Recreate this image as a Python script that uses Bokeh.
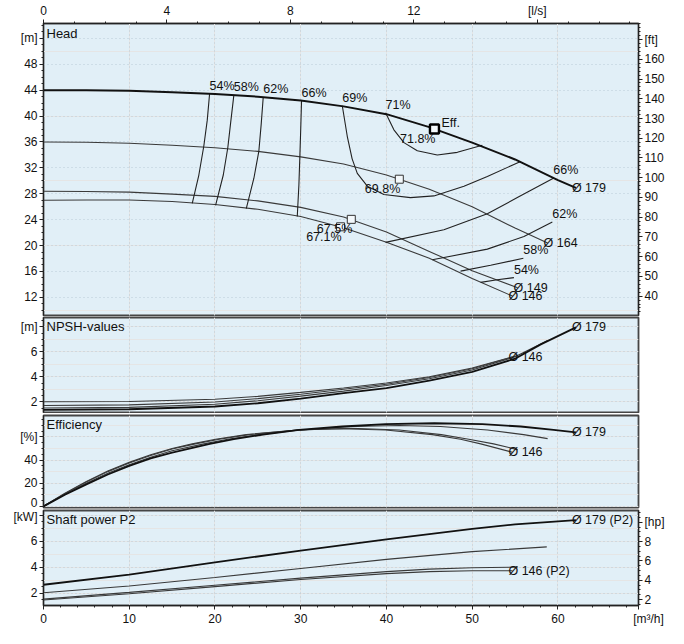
from bokeh.plotting import figure
from bokeh.layouts import column
from bokeh.models import Range1d, LinearAxis, FixedTicker, Grid, Label
from bokeh.embed import file_html
from bokeh.resources import INLINE
from bokeh.core.properties import value

# ---------------- data (flow Q in m3/h) ----------------
# Head curves [m]
q179 = [0, 5, 10, 15, 20, 25, 30, 35, 40, 45, 50, 55, 60, 62.1]
h179 = [44.0, 44.0, 43.9, 43.7, 43.4, 43.0, 42.4, 41.5, 40.3, 38.3, 35.9, 33.3, 30.1, 28.9]
q164 = [0, 5, 10, 15, 20, 25, 30, 35, 40, 45, 50, 55, 58.8]
h164 = [36.0, 35.95, 35.8, 35.5, 35.1, 34.55, 33.7, 32.6, 30.9, 28.7, 26.0, 22.7, 20.4]
q149 = [0, 5, 10, 15, 20, 25, 30, 35, 40, 45, 50, 55.3]
h149 = [28.4, 28.35, 28.25, 27.95, 27.6, 26.9, 25.9, 24.4, 22.1, 19.1, 16.1, 13.5]
q146 = [0, 5, 10, 15, 20, 25, 30, 35, 40, 45, 50, 54.7]
h146 = [27.0, 27.05, 27.05, 26.8, 26.35, 25.6, 24.5, 22.75, 20.5, 18.05, 14.9, 12.2]

# best efficiency points
bep_q = [45.6, 41.5, 35.9, 34.65]
bep_h = [38.0, 30.25, 24.05, 22.9]
bep_lbl = ["71.8%", "69.8%", "67.5%", "67.1%"]

# iso-efficiency lines in the head chart
iso_l_lbl = ["54%", "58%", "62%", "66%"]
iso_l_q = [[19.37, 19.1, 18.7, 18.12, 17.35],
           [22.2, 21.82, 21.5, 20.97, 20.07],
           [25.63, 25.4, 25.12, 24.54, 23.65],
           [30.1, 30.0, 29.9, 29.79, 29.6]]
iso_l_h = [[43.4, 39.37, 35.38, 30.9, 26.5],
           [43.2, 38.88, 35.15, 30.9, 26.2],
           [42.95, 38.88, 34.6, 30.4, 25.7],
           [42.4, 37.88, 33.74, 29.4, 24.5]]
iso69_q = [34.85, 35.43, 36.0, 36.6, 37.77, 39.7, 42.8, 45.54, 49.04, 51.77, 55.65]
iso69_h = [41.6, 36.88, 33.4, 31.15, 29.17, 27.9, 27.4, 27.67, 29.17, 30.66, 33.0]
iso71_q = [39.9, 40.87, 42.04, 43.6, 45.93, 48.27, 51.18]
iso71_h = [40.5, 37.88, 35.9, 34.64, 34.0, 34.4, 35.5]
iso_r_lbl = ["66%", "62%", "58%", "54%"]
iso_r_q = [[59.47, 55.27, 51.77, 46.7, 39.9],
           [59.35, 56.04, 51.77, 45.35],
           [55.97, 52.15, 48.65],
           [54.87, 52.93, 50.99]]
iso_r_h = [[30.4, 27.41, 24.9, 22.44, 20.5],
           [23.63, 21.4, 19.45, 17.8],
           [18.04, 16.95, 16.06],
           [15.05, 14.71, 14.31]]

# NPSH [m]
nq179 = [0, 10, 20, 25, 30, 35, 40, 45, 50, 55, 58, 62.1]
n179 = [1.35, 1.4, 1.62, 1.88, 2.25, 2.7, 3.1, 3.7, 4.4, 5.45, 6.6, 7.96]
nq164 = [0, 10, 20, 25, 30, 35, 40, 45, 50, 55, 58.8]
n164 = [1.5, 1.55, 1.8, 2.08, 2.45, 2.85, 3.3, 3.85, 4.55, 5.6, 6.9]
nq149 = [0, 10, 20, 25, 30, 35, 40, 45, 50, 55.3]
n149 = [1.7, 1.75, 1.98, 2.25, 2.6, 3.0, 3.4, 3.95, 4.65, 5.7]
nq146 = [0, 10, 20, 25, 30, 35, 40, 45, 50, 54.7]
n146 = [2.0, 2.02, 2.2, 2.43, 2.75, 3.1, 3.5, 4.0, 4.7, 5.6]

# Efficiency [%]
eq179 = [0, 2.5, 5, 7.5, 10, 12.5, 15, 19.4, 22.2, 25.6, 29.8, 34.85, 39.9, 45.6, 51.2, 55.65, 59.5, 62.1]
e179 = [0, 10, 19, 27.5, 35, 41.5, 46.5, 54, 58, 62, 66, 69, 71, 71.8, 71, 69, 66, 64.0]
eq164 = [0, 2.5, 5, 7.5, 10, 12.5, 15, 18.7, 21.5, 25.1, 29.9, 36, 41.5, 46.3, 51.8, 56, 58.8]
e164 = [0, 10.5, 20, 28.5, 36, 42.5, 48, 54, 58, 62, 66, 69, 69.8, 69, 66, 62, 58.5]
eq149 = [0, 2.5, 5, 7.5, 10, 12.5, 15, 17.7, 20.5, 24, 29.7, 35.9, 41.5, 46.4, 49.6, 52.5, 55.3]
e149 = [0, 11, 21, 30, 37.5, 44, 49.5, 54, 58, 62, 66, 67.5, 66, 62, 58, 54, 49]
eq146 = [0, 2.5, 5, 7.5, 10, 12.5, 15, 17.35, 20.07, 23.65, 29.6, 34.65, 39.9, 45.35, 48.65, 51, 54.7]
e146 = [0, 11.3, 21.5, 30.5, 38, 44.5, 50, 54, 58, 62, 66, 67.1, 66, 62, 58, 54, 46.7]

# Shaft power P2 [kW]
pq179 = [0, 10, 20, 30, 40, 50, 55, 62.1]
p179 = [2.64, 3.43, 4.37, 5.28, 6.15, 6.96, 7.3, 7.63]
pq164 = [0, 10, 20, 30, 40, 50, 58.7]
p164 = [2.02, 2.55, 3.2, 3.9, 4.6, 5.2, 5.56]
pq149 = [0, 10, 20, 30, 40, 45, 50, 55.3]
p149 = [1.53, 2.05, 2.6, 3.15, 3.65, 3.85, 3.95, 4.0]
pq146 = [0, 10, 20, 30, 40, 45, 50, 54.7]
p146 = [1.46, 1.95, 2.5, 3.05, 3.5, 3.65, 3.72, 3.72]

# axis ticks
q_ticks = [0, 10, 20, 30, 40, 50, 60]
ls_ticks = [0, 4, 8, 12, 16]
h_ticks = [12, 16, 20, 24, 28, 32, 36, 40, 44, 48, 52]
ft_ticks = [30, 40, 50, 60, 70, 80, 90, 100, 110, 120, 130, 140, 150, 160, 170]
npsh_ticks = [2, 4, 6, 8]
eff_ticks = [0, 20, 40, 60]
kw_ticks = [2, 4, 6, 8]
hp_ticks = [2, 4, 6, 8, 10]

# ---------------- styling ----------------
FONT = "Liberation Sans"
BG = "#e1eff7"
GRID = "#b9cbd6"
DARK = "#111111"
THIN = "#3a3a3a"
W = 668
XMAX = 69.4
xr = Range1d(0, XMAX)
NBSP = "\u00a0"


def frange(a, b, s):
    out = []
    v = a
    while v <= b + 1e-9:
        out.append(round(v, 4))
        v += s
    return out


def style_axis(ax, overrides=None):
    ax.axis_line_color = "#222222"
    ax.major_tick_line_color = "#222222"
    ax.minor_tick_line_color = "#222222"
    ax.major_tick_out = 4
    ax.major_tick_in = 0
    ax.minor_tick_out = 2
    ax.minor_tick_in = 0
    ax.major_label_text_font = FONT
    ax.major_label_text_font_size = "12px"
    ax.major_label_text_color = "#111111"
    ax.major_label_standoff = 2
    if overrides:
        ax.major_label_overrides = overrides


def make_fig(height, ylo, yhi, yticks, yminor, ylabel_over, btop=1, bbot=1):
    p = figure(width=W, height=height, x_range=xr, y_range=Range1d(ylo, yhi),
               output_backend="svg", toolbar_location=None,
               x_axis_location=None, y_axis_location=None,
               min_border_left=43, min_border_right=30,
               min_border_top=btop, min_border_bottom=bbot)
    p.background_fill_color = BG
    p.border_fill_color = "white"
    p.outline_line_color = "#454545"
    p.outline_line_width = 1.8
    ax = LinearAxis(ticker=FixedTicker(ticks=yticks, minor_ticks=yminor))
    style_axis(ax, {yticks[-1]: ylabel_over} if ylabel_over else None)
    p.add_layout(ax, "left")
    p.add_layout(Grid(dimension=0, ticker=FixedTicker(ticks=q_ticks),
                      grid_line_color=GRID, grid_line_dash="1 3", grid_line_width=1))
    p.add_layout(Grid(dimension=1, ticker=FixedTicker(ticks=yticks),
                      grid_line_color=GRID, grid_line_dash="1 3", grid_line_width=1))
    return p


def title(p, txt, y):
    p.add_layout(Label(x=0, y=y, x_offset=3, text=txt, text_font=FONT,
                       text_font_size="13px", text_color="#111111",
                       text_baseline="top", text_align="left"))


def tlabels(p, xs, ys, txt, align="left", baseline="middle", xo=0, yo=0, size="12.5px"):
    p.text(x=xs, y=ys, text=txt, text_font=value(FONT), text_font_size=size,
           text_color="#111111", text_align=align, text_baseline=baseline,
           x_offset=xo, y_offset=yo)


# ---------------- Head ----------------
HLO, HHI = 9.2, 54.3
ph = make_fig(316, HLO, HHI, h_ticks, frange(9, 54, 1), "[m]", btop=20, bbot=1)
ph.extra_y_ranges = {"ft": Range1d(HLO / 0.3048, HHI / 0.3048)}
axft = LinearAxis(y_range_name="ft", ticker=FixedTicker(ticks=ft_ticks, minor_ticks=frange(30, 178, 2)))
style_axis(axft, {170: "[ft]"})
ph.add_layout(axft, "right")
ph.extra_x_ranges = {"ls": Range1d(0, XMAX / 3.6)}
axls = LinearAxis(x_range_name="ls", ticker=FixedTicker(ticks=ls_ticks, minor_ticks=frange(0, 19, 1)))
style_axis(axls, {16: "[l/s]"})
ph.add_layout(axls, "above")
title(ph, "Head", HHI - 0.45)

ph.line(q164, h164, line_color=THIN, line_width=1.1)
ph.line(q149, h149, line_color=THIN, line_width=1.1)
ph.line(q146, h146, line_color=THIN, line_width=1.1)
for qs, hs in zip(iso_l_q, iso_l_h):
    ph.line(qs, hs, line_color="#222222", line_width=1.1)
for qs, hs in zip(iso_r_q, iso_r_h):
    ph.line(qs, hs, line_color="#222222", line_width=1.1)
ph.line(iso69_q, iso69_h, line_color="#222222", line_width=1.1)
ph.line(iso71_q, iso71_h, line_color="#222222", line_width=1.1)
ph.line(q179, h179, line_color=DARK, line_width=2)

ph.scatter(bep_q[1:], bep_h[1:], marker="square", size=8, fill_color="#f3f8fb",
           line_color="#333333", line_width=1)
ph.scatter(bep_q[:1], bep_h[:1], marker="square", size=9, fill_color="#f3f8fb",
           line_color="#000000", line_width=2.4)

tlabels(ph, [qs[0] for qs in iso_l_q], [hs[0] for hs in iso_l_h], iso_l_lbl, baseline="bottom", yo=-1)
tlabels(ph, [iso69_q[0]], [iso69_h[0]], ["69%"], baseline="bottom", yo=-1)
tlabels(ph, [iso71_q[0]], [iso71_h[0]], ["71%"], baseline="bottom", yo=-1)
tlabels(ph, [qs[0] for qs in iso_r_q], [hs[0] for hs in iso_r_h], iso_r_lbl, baseline="bottom", yo=-1)
tlabels(ph, bep_q, bep_h, bep_lbl, align="right", baseline="top", xo=1, yo=3)
tlabels(ph, bep_q[:1], bep_h[:1], ["Eff."], align="left", baseline="bottom", xo=7, yo=1)
tlabels(ph, [q179[-1], q164[-1], q149[-1], q146[-1]], [h179[-1], h164[-1], h149[-1], h146[-1]],
        ["Ø 179", "Ø 164", "Ø 149", "Ø 146"], xo=-4)

# ---------------- NPSH ----------------
NLO, NHI = 1.14, 8.75
pn = make_fig(97, NLO, NHI, npsh_ticks, frange(1.5, 8.5, 0.5), "[m]", btop=1, bbot=1)
title(pn, "NPSH-values", NHI - 0.15)
pn.line(nq146, n146, line_color=THIN, line_width=1.1)
pn.line(nq149, n149, line_color=THIN, line_width=1.1)
pn.line(nq164, n164, line_color=THIN, line_width=1.1)
pn.line(nq179, n179, line_color=DARK, line_width=1.8)
tlabels(pn, [nq179[-1], nq146[-1]], [n179[-1], n146[-1]], ["Ø 179", "Ø 146"], xo=-4)

# ---------------- Efficiency ----------------
ELO, EHI = -1.0, 78.5
pe = make_fig(96, ELO, EHI, eff_ticks, frange(0, 75, 5), "[%]", btop=2, bbot=2)
title(pe, "Efficiency", EHI - 1.5)
pe.line(eq146, e146, line_color=THIN, line_width=1.1)
pe.line(eq149, e149, line_color=THIN, line_width=1.1)
pe.line(eq164, e164, line_color=THIN, line_width=1.1)
pe.line(eq179, e179, line_color=DARK, line_width=1.8)
tlabels(pe, [eq179[-1], eq146[-1]], [e179[-1], e146[-1]], ["Ø 179", "Ø 146"], xo=-4)

# ---------------- Power ----------------
PLO, PHI = 1.04, 8.37
pp = make_fig(119, PLO, PHI, kw_ticks, frange(1.5, 8, 0.5), "[kW]", btop=1, bbot=22)
pp.extra_y_ranges = {"hp": Range1d(PLO / 0.7457, PHI / 0.7457)}
axhp = LinearAxis(y_range_name="hp", ticker=FixedTicker(ticks=hp_ticks, minor_ticks=frange(1.5, 11, 0.5)))
style_axis(axhp, {10: "[hp]"})
pp.add_layout(axhp, "right")
q_end = round(XMAX - 0.001, 3)
axq = LinearAxis(ticker=FixedTicker(ticks=q_ticks + [q_end], minor_ticks=frange(0, 68, 2)))
style_axis(axq, {q_end: NBSP * 6 + "[m³/h]"})
pp.add_layout(axq, "below")
title(pp, "Shaft power P2", PHI - 0.15)
pp.line(pq146, p146, line_color=THIN, line_width=1.1)
pp.line(pq149, p149, line_color=THIN, line_width=1.1)
pp.line(pq164, p164, line_color=THIN, line_width=1.1)
pp.line(pq179, p179, line_color=DARK, line_width=1.8)
tlabels(pp, [pq179[-1], pq146[-1]], [p179[-1], p146[-1]], ["Ø 179 (P2)", "Ø 146 (P2)"], xo=-4)

layout = column(ph, pn, pe, pp, spacing=0)
open("out.html", "w").write(file_html(layout, INLINE))
